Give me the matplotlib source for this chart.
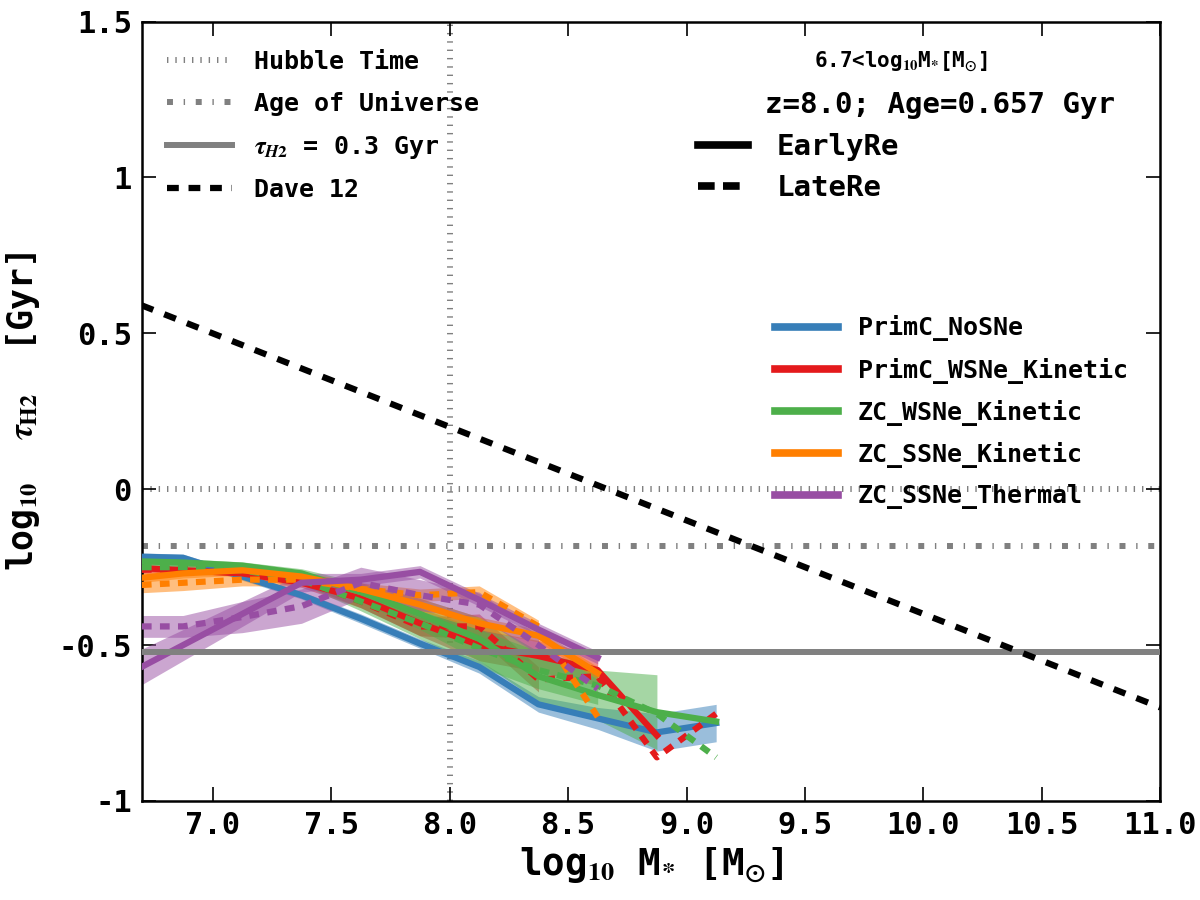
import numpy as np
import matplotlib
matplotlib.use("Agg")
import matplotlib.pyplot as plt
from matplotlib.lines import Line2D
from matplotlib.ticker import FuncFormatter

plt.rcParams['font.family'] = ['DejaVu Sans Mono']
plt.rcParams['font.weight'] = 'bold'
plt.rcParams['axes.labelweight'] = 'bold'
plt.rcParams['mathtext.fontset'] = 'stix'
plt.rcParams['axes.unicode_minus'] = False
plt.rcParams['lines.scale_dashes'] = False

# stellar mass bins (log10 M*)
mass_bins = [6.625, 6.875, 7.125, 7.375, 7.625, 7.875, 8.125, 8.375, 8.625, 8.875, 9.125]

# log10 tau_H2 [Gyr], EarlyRe (solid) and LateRe (dashed), with band half widths
noSNe_early = [-0.215, -0.22, -0.28, -0.34, -0.415, -0.495, -0.57, -0.69, -0.735, -0.78, -0.75]
noSNe_early_err = [0.012, 0.012, 0.012, 0.012, 0.015, 0.015, 0.02, 0.025, 0.035, 0.06, 0.06]

wsne_early = [-0.25, -0.26, -0.27, -0.30, -0.35, -0.43, -0.50, -0.535, -0.58, -0.79]
wsne_early_err = [0.01, 0.01, 0.01, 0.015, 0.03, 0.04, 0.05, 0.05, 0.05, np.nan]
wsne_late = [-0.26, -0.255, -0.26, -0.29, -0.36, -0.44, -0.44, -0.61, -0.60, -0.86, -0.72]
wsne_late_err = [0.012, 0.012, 0.012, 0.015, 0.02, 0.03, 0.04, 0.04, np.nan, np.nan, np.nan]

zcw_early = [-0.23, -0.235, -0.245, -0.27, -0.33, -0.40, -0.48, -0.60, -0.66, -0.715, -0.745]
zcw_early_err = [0.012, 0.012, 0.012, 0.015, 0.03, 0.05, 0.07, 0.08, 0.08, 0.12, np.nan]
zcw_late = [-0.25, -0.25, -0.26, -0.29, -0.36, -0.43, -0.51, -0.58, -0.63, -0.72, -0.86]
zcw_late_err = [0.01, 0.01, 0.01, 0.015, 0.03, 0.05, 0.06, 0.06, 0.06, np.nan, np.nan]

zcs_early = [-0.29, -0.27, -0.26, -0.28, -0.32, -0.37, -0.43, -0.47, -0.59]
zcs_early_err = [0.015, 0.015, 0.015, 0.015, 0.02, 0.02, 0.02, 0.02, 0.02]
zcs_late = [-0.31, -0.30, -0.29, -0.29, -0.32, -0.34, -0.33, -0.44, -0.73]
zcs_late_err = [0.025, 0.025, 0.02, 0.02, 0.02, 0.02, 0.02, 0.02, np.nan]

zct_early = [-0.60, -0.50, -0.40, -0.30, -0.29, -0.265, -0.355, -0.45, -0.54]
zct_early_err = [0.06, 0.05, 0.04, 0.03, 0.02, 0.02, 0.02, 0.02, 0.02]
zct_late = [-0.44, -0.44, -0.41, -0.375, -0.30, -0.34, -0.37, -0.50, -0.64]
zct_late_err = [0.035, 0.035, 0.05, 0.055, 0.05, 0.05, 0.04, 0.03, np.nan]

model_names = ['PrimC_NoSNe', 'PrimC_WSNe_Kinetic', 'ZC_WSNe_Kinetic', 'ZC_SSNe_Kinetic', 'ZC_SSNe_Thermal']
model_colors = ['#377eb8', '#e41a1c', '#4daf4a', '#ff7f00', '#984ea3']
early_runs = [(noSNe_early, noSNe_early_err), (wsne_early, wsne_early_err), (zcw_early, zcw_early_err),
              (zcs_early, zcs_early_err), (zct_early, zct_early_err)]
late_runs = [None, (wsne_late, wsne_late_err), (zcw_late, zcw_late_err),
             (zcs_late, zcs_late_err), (zct_late, zct_late_err)]

# reference lines
hubble_time = 0.0
age_universe = np.log10(0.657)
tau_ref = np.log10(0.3)
mass_cut = 8.0
dave_x = [6.7, 11.0]
dave_y = [0.59, -0.70]

GRAY = '#808080'
DOT = (0, (1, 5))
DASHDOT = (0, (4.3, 7.7, 1, 7.7))
DASH_DAVE = (0, (9, 8.5))
DASH_RUN = (0, (7, 6))

fig = plt.figure(figsize=(12, 9), dpi=100)
ax = fig.add_axes([0.118, 0.11, 0.849, 0.866])

ax.axhline(hubble_time, color=GRAY, lw=4.3, ls=DOT, zorder=1)
ax.axvline(mass_cut, color=GRAY, lw=4.3, ls=DOT, zorder=1)
ax.axhline(age_universe, color=GRAY, lw=4.3, ls=DASHDOT, zorder=1)
ax.axhline(tau_ref, color=GRAY, lw=4.3, ls='-', zorder=5)
ax.plot(dave_x, dave_y, color='k', lw=4.5, ls=DASH_DAVE, zorder=6)

for i, c in enumerate(model_colors):
    for run, ls in ((early_runs[i], '-'), (late_runs[i], DASH_RUN)):
        if run is None:
            continue
        y, err = np.array(run[0]), np.array(run[1])
        x = np.array(mass_bins[:len(y)])
        ax.fill_between(x, y - err, y + err, color=c, alpha=0.5, lw=0, zorder=2)
        ax.plot(x, y, color=c, lw=4.5, ls=ls, zorder=3)

ax.set_xlim(6.7, 11.0)
ax.set_ylim(-1, 1.5)
ax.set_xticks(np.arange(7.0, 11.01, 0.5))
ax.set_yticks([-1, -0.5, 0, 0.5, 1, 1.5])
ax.yaxis.set_major_formatter(FuncFormatter(lambda v, p: '%g' % v))
ax.xaxis.set_major_formatter(FuncFormatter(lambda v, p: '%.1f' % v))
ax.tick_params(direction='in', length=10, width=1.2, top=True, right=True, labelsize=22, pad=7)
for s in ax.spines.values():
    s.set_linewidth(1.8)

ax.set_xlabel(r'log$_{10}$ M$_{*}$ [M$_{\odot}$]', fontsize=27, labelpad=4)
ax.set_ylabel(r'log$_{10}$  $\tau_{\rm H2}$  [Gyr]', fontsize=25, labelpad=12)

# legend: reference lines
ref_handles = [Line2D([], [], color=GRAY, lw=4.3, ls=DOT),
               Line2D([], [], color=GRAY, lw=4.3, ls=DASHDOT),
               Line2D([], [], color=GRAY, lw=4.3, ls='-'),
               Line2D([], [], color='k', lw=4.5, ls=(0, (8.5, 7)))]
ref_labels = ['Hubble Time', 'Age of Universe', r'$\tau_{H2}$ = 0.3 Gyr', 'Dave 12']
leg1 = ax.legend(ref_handles, ref_labels, loc='upper left', bbox_to_anchor=(0.0, 0.996),
                 frameon=False, fontsize=18, handlelength=2.6, handletextpad=0.9,
                 labelspacing=0.7, borderaxespad=0.6)
ax.add_artist(leg1)

# legend: reionization
ax.text(0.745, 0.95, r'6.7<log$_{10}$M$_{*}$[M$_{\odot}$]', transform=ax.transAxes,
        fontsize=15, ha='center', va='center')
ax.text(0.612, 0.893, 'z=8.0; Age=0.657 Gyr', transform=ax.transAxes,
        fontsize=21, ha='left', va='center')
re_handles = [Line2D([], [], color='k', lw=5.5, ls='-'),
              Line2D([], [], color='k', lw=5.5, ls=(0, (12, 6)))]
leg2 = ax.legend(re_handles, ['EarlyRe', 'LateRe'], loc='upper left', bbox_to_anchor=(0.535, 0.872),
                 frameon=False, fontsize=21, handlelength=1.7, handletextpad=1.0,
                 labelspacing=0.45, borderaxespad=0.0)
ax.add_artist(leg2)

# legend: models
model_handles = [Line2D([], [], color=c, lw=5.5) for c in model_colors]
ax.legend(model_handles, model_names, loc='upper left', bbox_to_anchor=(0.612, 0.636),
          frameon=False, fontsize=18, handlelength=2.5, handletextpad=0.8,
          labelspacing=0.65, borderaxespad=0.0)

fig.savefig('out.png', dpi=100)
